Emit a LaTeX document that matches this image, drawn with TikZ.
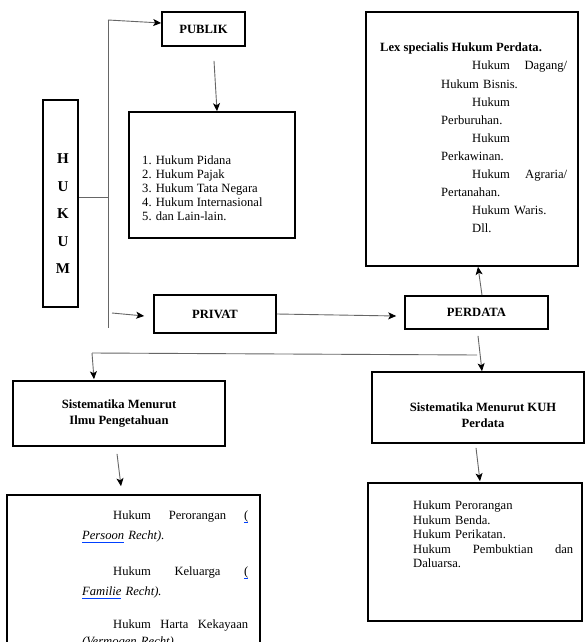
\documentclass[tikz,border=0pt]{standalone}
\usepackage{fontspec}
\setmainfont{Liberation Serif}
\usetikzlibrary{arrows.meta,calc}
\newsavebox\myulbox
\newcommand\blueul[1]{\sbox\myulbox{#1}\leavevmode\rlap{\textcolor{blue!75!cyan}{\rule[-2.6pt]{\wd\myulbox}{0.8pt}}}\usebox\myulbox}
\begin{document}
\begin{tikzpicture}[x=1pt,y=-1pt,
  box/.style={draw=black, line width=1.6pt, inner sep=0pt},
  conn/.style={draw=black!60, line width=0.9pt},
  arr/.style={conn, -{Stealth[length=8pt,width=7pt,inset=2pt,black]}},
  lbl/.style={font=\fontsize{12.6}{16}\selectfont\bfseries, align=center},
  txt/.style={inner sep=0pt, anchor=north west, align=left}]
\clip (0,0) rectangle (585,642);
\fill[white] (0,0) rectangle (585,642);
% boxes
\node[box, minimum width=35, minimum height=207] (hukum) at (60.5,203.5) {};
\node[box, lbl, minimum width=83, minimum height=34] (publik) at (203.5,29) {PUBLIK};
\node[box, minimum width=166, minimum height=126] (list) at (212,175) {};
\node[box, lbl, minimum width=122, minimum height=38] (privat) at (215,314) {PRIVAT};
\node[box, lbl, minimum width=143, minimum height=33] (perdata) at (476.5,312.5) {PERDATA};
\node[box, minimum width=212, minimum height=254] (lex) at (472,139) {};
\node[box, lbl, minimum width=212, minimum height=65] (ilmu) at (119,413.5) {Sistematika Menurut\\Ilmu Pengetahuan};
\node[box, minimum width=212, minimum height=71] (kuh) at (478,407.5) {};
\node[box, minimum width=253, minimum height=165] (boxl) at (133.5,577.5) {};
\node[box, minimum width=214, minimum height=138] (boxr) at (475,552) {};
% texts
\node[font=\fontsize{15}{27.5}\selectfont\bfseries, align=center, inner sep=0pt] (hukumtext) at ($(hukum.center)+(2.5,10.5)$) {H\\U\\K\\U\\M};
\node[lbl] (kuhtext) at ($(kuh.center)+(5,7.5)$) {Sistematika Menurut KUH\\Perdata};
\node[txt, font=\fontsize{12.6}{13.8}\selectfont] (listtext) at (142,156) {1. Hukum Pidana\\2. Hukum Pajak\\3. Hukum Tata Negara\\4. Hukum Internasional\\5. dan Lain-lain.};
\node[txt, font=\fontsize{12.6}{14}\selectfont\bfseries] (lextitle) at (380,43) {Lex specialis Hukum Perdata.};
\node[txt, text width=126, font=\fontsize{12.6}{18.1}\selectfont] (lexbody) at (441,61) {%
\hspace*{31pt}Hukum\hfill Dagang/\\
Hukum Bisnis.\\
\hspace*{31pt}Hukum\\
Perburuhan.\\
\hspace*{31pt}Hukum\\
Perkawinan.\\
\hspace*{31pt}Hukum\hfill Agraria/\\
Pertanahan.\\
\hspace*{31pt}Hukum Waris.\\
\hspace*{31pt}Dll.};
\node[txt, text width=166, font=\fontsize{12.6}{20}\selectfont] (boxltext) at (82,511) {%
\hspace*{31pt}Hukum\hfill Perorangan\hfill \blueul{(}\\
\blueul{\textit{Persoon}} \textit{Recht).}\\[16pt]
\hspace*{31pt}Hukum\hfill Keluarga\hfill \blueul{(}\\
\blueul{\textit{Familie}} \textit{Recht).}\\[13pt]
\hspace*{31pt}Hukum\hfill Harta\hfill Kekayaan\\[-3pt]
\textit{(Vermogen Recht)}};
\node[txt, text width=160, font=\fontsize{12.6}{14.5}\selectfont] (boxrtext) at (413,501) {%
Hukum Perorangan\\
Hukum Benda.\\
Hukum Perikatan.\\
Hukum\hfill Pembuktian\hfill dan\\
Daluarsa.};
% connectors
\coordinate (vtop) at (108,20);
\coordinate (vbot) at (108,328);
\coordinate (vmid) at (108,197);
\coordinate (privstart) at (112,313);
\coordinate (hl) at (92,353);
\coordinate (hr) at (477,355);
\draw[conn] (vtop) -- (vbot);
\draw[conn] (hukum.east |- vmid) -- (vmid);
\draw[arr] (vtop) -- ($(publik.west)+(0,-6)$);
\draw[arr] (privstart) -- ($(privat.west)+(-9,2)$);
\draw[arr] ($(publik.south)+(10.5,14)$) -- ($(list.north)+(5,0)$);
\draw[arr] (privat.east) -- ($(perdata.west)+(-8,3.5)$);
\draw[arr] ($(perdata.north)+(5.5,0)$) -- ($(lex.south)+(6,0)$);
\draw[arr] ($(perdata.south)+(1.5,6)$) -- ($(kuh.north)+(4,0)$);
\draw[conn] (hl) -- (hr);
\draw[arr] (hl) -- ($(ilmu.north)+(-25,-1)$);
\draw[arr] ($(ilmu.south)+(-2,7)$) -- ($(boxl.north)+(-12.5,-8)$);
\draw[arr] ($(kuh.south)+(-2,4)$) -- ($(boxr.north)+(5,-1)$);
\end{tikzpicture}
\end{document}
